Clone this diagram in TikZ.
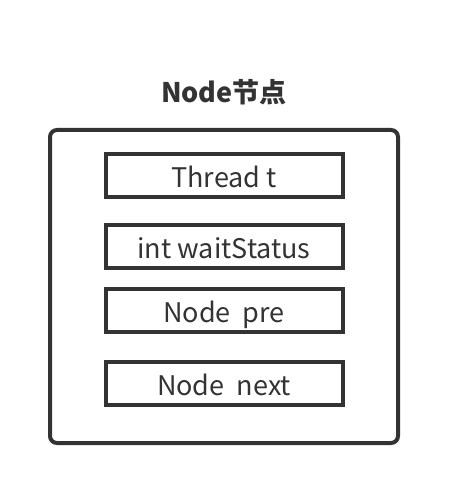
\documentclass[tikz,border=0pt]{standalone}
\usepackage{fontspec}
\setmainfont{Noto Sans CJK SC}
\usetikzlibrary{positioning}
\definecolor{mgray}{rgb}{0.2, 0.2, 0.2}
\tikzset{field/.style = {draw=mgray, line width=4, minimum width=237, minimum height=43,
    inner sep=0, text height=24, text depth=0, text=mgray, font=\fontsize{27}{32}\selectfont}}
\tikzset{holder/.style = {draw=mgray, line width=4, rounded corners=7}}

\begin{document}
\begin{tikzpicture}[x=1pt, y=-1pt]
      \useasboundingbox (0, 0) rectangle (448, 494);

      \node [text=mgray, font=\fontsize{27}{32}\selectfont\bfseries] (title) at (224, 92) {Node节点};

      \draw [holder] (50, 130) rectangle (398, 443); % outer node box

      \node [field] (thread) at (224, 175.5) {Thread t};
      \node [field] (status) at (224, 246) {int waitStatus};
      \node [field] (pre) at (224, 310) {Node\ \ pre};
      \node [field] (next) at (224, 383.75) {Node\ \ next};
    \end{tikzpicture}
\end{document}
